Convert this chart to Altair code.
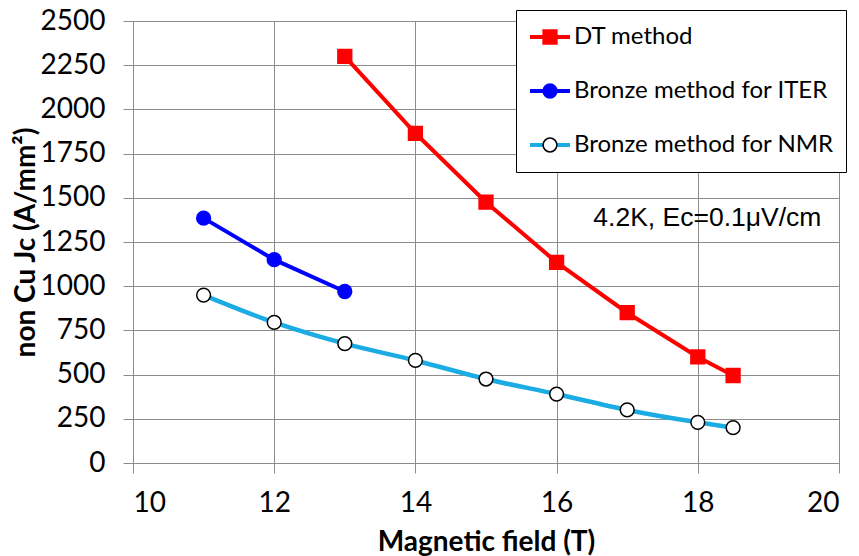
import altair as alt
import pandas as pd

series_names = ["DT method", "Bronze method for ITER", "Bronze method for NMR"]
dt_field = [13, 14, 15, 16, 17, 18, 18.5]
dt_jc = [2300, 1865, 1475, 1135, 850, 600, 495]
iter_field = [11, 12, 13]
iter_jc = [1385, 1150, 970]
nmr_field = [11, 12, 13, 14, 15, 16, 17, 18, 18.5]
nmr_jc = [950, 795, 675, 580, 475, 390, 300, 230, 200]

line_colors = ["#ff0000", "#0000ff", "#1cace4"]
fill_colors = ["#ff0000", "#0000ff", "#ffffff"]
stroke_colors = ["#ff0000", "#0000ff", "#000000"]
marker_shapes = ["square", "circle", "circle"]
marker_names = [name + " markers" for name in series_names]

x_ticks = [10, 12, 14, 16, 18, 20]
y_ticks = [0, 250, 500, 750, 1000, 1250, 1500, 1750, 2000, 2250, 2500]

note_text = ["4.2K, Ec=0.1μV/cm"]
note_field = [16.52]
note_jc = [1385]

rows = []
for name, xs, ys in zip(series_names, [dt_field, iter_field, nmr_field], [dt_jc, iter_jc, nmr_jc]):
    for xv, yv in zip(xs, ys):
        rows.append({"series": name, "field": xv, "jc": yv})
df = pd.DataFrame(rows)

x_enc = alt.X("field:Q", title="Magnetic field (T)",
              scale=alt.Scale(domain=[10, 20], nice=False, zero=False),
              axis=alt.Axis(values=x_ticks, format="d", labelPadding=16, titlePadding=11))
y_enc = alt.Y("jc:Q", title="non Cu Jc (A/mm²)",
              scale=alt.Scale(domain=[0, 2500], nice=False),
              axis=alt.Axis(values=y_ticks, format="d", labelPadding=18, titlePadding=0))

legend_lines = alt.Legend(
    orient="none", legendX=383, legendY=-11, title=None, padding=12,
    clipHeight=30, rowPadding=24, symbolType="stroke", symbolSize=1600,
    symbolStrokeWidth=4, labelFont="Lato", labelFontSize=24, labelColor="black",
    labelOffset=2, labelLimit=600, fillColor="white", strokeColor="black")

legend_marks = alt.Legend(
    orient="none", legendX=393, legendY=-11, title=None, padding=12,
    clipHeight=30, rowPadding=24, symbolSize=190, symbolStrokeWidth=1.5,
    labelFont="Lato", labelFontSize=24, labelExpr="''", labelOffset=2)

color_enc = alt.Color("series:N", scale=alt.Scale(domain=series_names, range=line_colors),
                      legend=legend_lines)

base = alt.Chart(df).encode(x=x_enc, y=y_enc)

lines_straight = base.transform_filter(
    alt.FieldOneOfPredicate(field="series", oneOf=series_names[:2])
).mark_line(strokeWidth=4).encode(color=color_enc, detail="series:N")

lines_smooth = base.transform_filter(
    alt.FieldEqualPredicate(field="series", equal=series_names[2])
).mark_line(strokeWidth=4.5, interpolate="monotone").encode(color=color_enc)

points = base.transform_calculate(marker="datum.series + ' markers'").mark_point(
    filled=True, size=190, strokeWidth=1.5, opacity=1
).encode(
    fill=alt.Fill("marker:N", scale=alt.Scale(domain=marker_names, range=fill_colors), legend=legend_marks),
    stroke=alt.Stroke("marker:N", scale=alt.Scale(domain=marker_names, range=stroke_colors), legend=legend_marks),
    shape=alt.Shape("marker:N", scale=alt.Scale(domain=marker_names, range=marker_shapes), legend=legend_marks),
)

note = alt.Chart(pd.DataFrame({"field": note_field, "jc": note_jc, "text": note_text})).mark_text(
    align="left", baseline="middle", font="Liberation Sans", fontSize=26.5, color="black"
).encode(x="field:Q", y="jc:Q", text="text:N")

chart = alt.layer(lines_straight, lines_smooth, points, note).properties(
    width=706, height=442,
    autosize=alt.AutoSizeParams(type="none"),
    padding={"left": 133, "top": 21, "right": 20, "bottom": 93},
    background="white",
).configure_view(stroke=None).configure_axis(
    grid=True, gridColor="#8c8c8c", gridWidth=1, gridOpacity=1,
    tickColor="#8c8c8c", tickSize=10, tickWidth=1,
    domainColor="#8c8c8c", domainWidth=1,
    labelFont="Lato", labelFontSize=28, labelColor="black",
    titleFont="Lato", titleFontSize=28, titleFontWeight="bold", titleColor="black",
)

chart.save("out.html", embed_options={"renderer": "svg", "actions": False})
